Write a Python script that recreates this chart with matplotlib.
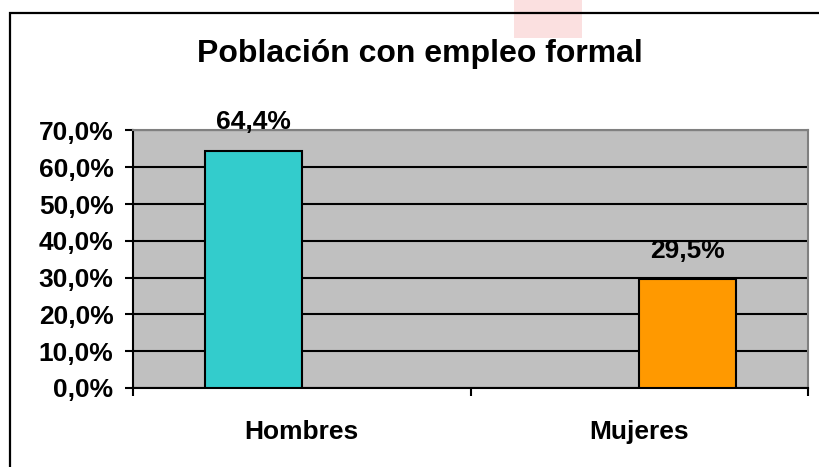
import matplotlib.pyplot as plt
import matplotlib.ticker
from matplotlib.patches import Rectangle

categories = ['Hombres', 'Mujeres']
values = [64.4, 29.5]
colors = ['#33CCCC', '#FF9900']
labels = ['64,4%', '29,5%']

plt.rcParams['font.family'] = ['Liberation Sans', 'DejaVu Sans']
plt.rcParams['font.weight'] = 'bold'

fig = plt.figure(figsize=(8.19, 4.67), dpi=100)

# faint pink mark at the top
fig.patches.append(Rectangle((0.627, 0.918), 0.084, 0.09, transform=fig.transFigure,
                             facecolor='#fbe0e0', edgecolor='none', zorder=0))
# outer chart frame (cut off at right and bottom)
fig.patches.append(Rectangle((0.0128, -0.1), 1.1, 1.072, transform=fig.transFigure,
                             facecolor='none', edgecolor='black', linewidth=1.6, zorder=1))

ax = fig.add_axes([0.1624, 0.1692, 0.8242, 0.5514])
ax.set_facecolor('#C0C0C0')

bw = 0.286
offsets = [-bw / 2, bw / 2]
for i, (v, c) in enumerate(zip(values, colors)):
    x = i + offsets[i]
    ax.bar(x, v, width=bw, color=c, edgecolor='black', linewidth=1.5, zorder=3)
    ax.annotate(labels[i], (x, v), xytext=(0, 12), textcoords='offset points',
                ha='center', va='bottom', fontsize=19, fontweight='bold', zorder=4)

ax.set_ylim(0, 70)
ax.set_xlim(-0.5, 1.5)
ax.yaxis.set_major_locator(matplotlib.ticker.MultipleLocator(10))
ax.yaxis.set_major_formatter(matplotlib.ticker.FuncFormatter(
    lambda y, p: f'{y:.1f}'.replace('.', ',') + '%'))
ax.grid(axis='y', color='black', linewidth=1.5, zorder=1)
ax.set_axisbelow(True)

ax.set_xticks([-0.5, 0.5, 1.5])
ax.set_xticklabels([])
ax.set_xticks([0, 1], minor=True)
ax.set_xticklabels(categories, minor=True, fontsize=19, fontweight='bold')
ax.tick_params(axis='x', which='minor', length=0, pad=23)
ax.tick_params(axis='x', which='major', length=6, width=1.5, direction='out')
ax.tick_params(axis='y', length=6, width=1.5, pad=8, labelsize=19)

for s in ['top', 'right']:
    ax.spines[s].set_color('#808080')
    ax.spines[s].set_linewidth(1.5)
for s in ['left', 'bottom']:
    ax.spines[s].set_color('black')
    ax.spines[s].set_linewidth(1.5)

fig.text(0.513, 0.867, 'Población con empleo formal', ha='center', va='baseline',
         fontsize=23, fontweight='bold')

plt.savefig('out.png', dpi=100)
